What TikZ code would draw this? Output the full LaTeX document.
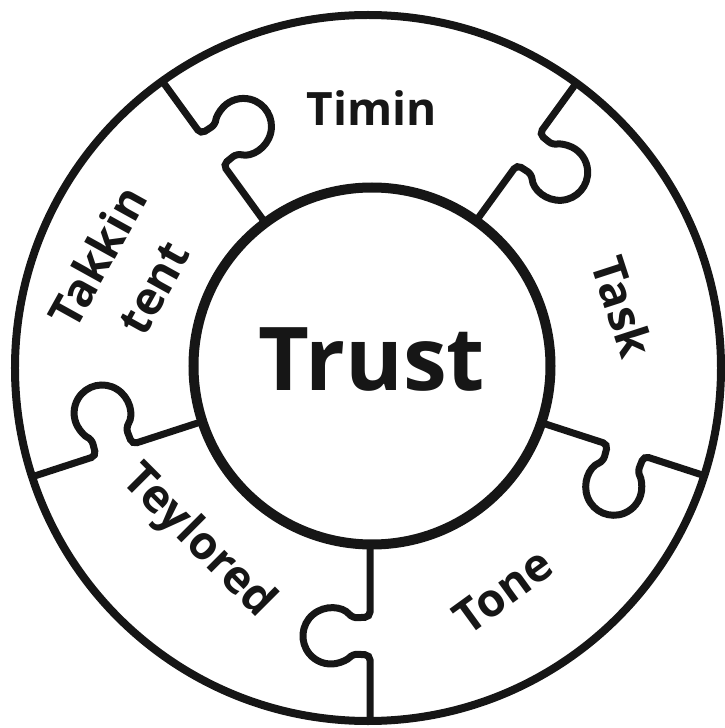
\documentclass[tikz,border=0pt]{standalone}
\usepackage{fontspec}
\setmainfont{Open Sans}
\usepackage{xcolor}
\definecolor{pzink}{RGB}{22,22,22}
\tikzset{
  rim/.style={draw=pzink, circle, line width=8pt, inner sep=0pt, minimum size=706pt},
  hub/.style={draw=pzink, circle, line width=10pt, inner sep=0pt, minimum size=357pt},
  seam/.style={draw=pzink, line width=7pt, rounded corners=5pt},
  word/.style={text=pzink, font=\fontsize{46}{64}\selectfont\bfseries, align=center, inner sep=0pt},
  title/.style={text=pzink, font=\fontsize{88}{100}\selectfont\bfseries, inner sep=0pt}
}

\begin{document}
\begin{tikzpicture}[x=1pt, y=1pt]
        \useasboundingbox (-370,-361) rectangle (354,367);
        \node[rim] (rim) at (-2,-1) {};
        \node[hub] (hub) at (2,1) {};
        % puzzle seams, knob turned clockwise
        \draw[seam, rotate=-90] (178,0) -- (250,0) -- (251,-17.6) arc[start angle=130, end angle=410, radius=28] -- (288,0) -- (353,0);
        \draw[seam, rotate=-18] (178,0) -- (250,0) -- (251,-17.6) arc[start angle=130, end angle=410, radius=28] -- (288,0) -- (353,0);
        \draw[seam, rotate=54] (178,0) -- (250,0) -- (251,-17.6) arc[start angle=130, end angle=410, radius=28] -- (288,0) -- (353,0);
        \draw[seam, rotate=126] (178,0) -- (250,0) -- (251,-17.6) arc[start angle=130, end angle=410, radius=28] -- (288,0) -- (353,0);
        \draw[seam, rotate=198] (178,0) -- (250,0) -- (251,-17.6) arc[start angle=130, end angle=410, radius=28] -- (288,0) -- (353,0);
        \node[title, anchor=base] (trust) at (2,-23) {Trust};
        \node[word, anchor=base] (timin) at (2,241) {Timin};
        \node[word, rotate=-72] (task) at (253,60) {Task};
        \node[word, rotate=36] (tone) at (133,-224) {Tone};
        \node[word, rotate=-45] (teylored) at (-172,-175) {Teylored};
        \node[word, rotate=61] (takkin) at (-245,95) {Takkin\\tent};
      \end{tikzpicture}
\end{document}
